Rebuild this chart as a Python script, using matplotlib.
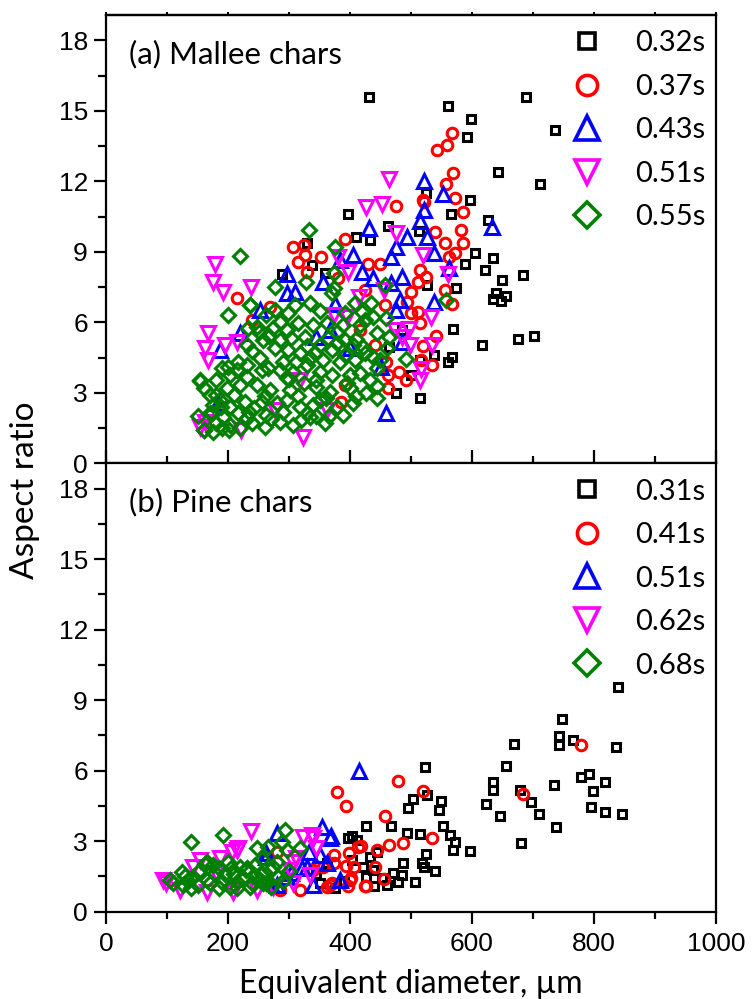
import matplotlib
matplotlib.use("Agg")
import matplotlib.pyplot as plt
from matplotlib.lines import Line2D
from matplotlib.ticker import MultipleLocator, NullFormatter

# ---------------- (a) Mallee chars ----------------
mallee_labels = ["0.32s", "0.37s", "0.43s", "0.51s", "0.55s"]

mallee_032_d = [431, 560, 689, 599, 591, 736, 643, 712, 596, 565, 626, 525, 513, 462, 397, 410, 432,
                605, 634, 589, 622, 649, 683, 640, 656, 634, 648, 573, 569, 617, 675, 701, 567, 560,
                515, 476, 538, 527, 500, 464, 329, 288, 337, 359, 485, 515]
mallee_032_ar = [15.6, 15.2, 15.6, 14.65, 13.9, 14.2, 12.4, 11.9, 11.2, 10.6, 10.35, 11.5, 9.9, 10.1, 10.6, 9.65, 9.5,
                 8.94, 8.72, 8.48, 8.23, 7.8, 8.0, 7.23, 7.1, 7.0, 6.92, 7.45, 5.7, 5.03, 5.28, 5.43, 4.54, 4.32,
                 2.77, 2.98, 4.6, 7.6, 3.75, 4.96, 9.36, 8.05, 8.44, 8.1, 5.67, 4.4]

mallee_037_d = [568, 559, 543, 569, 558, 572, 586, 476, 519, 522, 539, 582, 555, 586, 572, 562, 449, 514,
                525, 511, 500, 555, 568, 494, 511, 500, 514, 541, 519, 535, 459, 481, 491, 462, 462, 516,
                307, 325, 326, 314, 352, 392, 329, 214, 430, 239, 269, 386, 425, 457, 416, 441, 392, 380]
mallee_037_ar = [14.07, 13.55, 13.33, 12.37, 11.9, 11.28, 10.7, 10.95, 11.2, 11.1, 9.86, 9.93, 9.39, 9.39, 8.94, 8.8, 8.5, 8.23,
                 7.94, 7.73, 7.3, 7.37, 6.8, 6.88, 6.45, 6.38, 5.96, 5.42, 4.99, 4.18, 4.32, 3.9, 3.54, 3.76, 3.19, 4.4,
                 9.22, 9.29, 8.86, 8.58, 8.77, 9.53, 8.15, 7.02, 8.5, 6.1, 6.66, 2.62, 7.37, 6.74, 5.67, 5.03, 3.33, 7.9]

mallee_043_d = [521, 552, 522, 515, 494, 527, 633, 475, 467, 538, 562, 486, 467, 475, 537, 486, 451, 459,
                431, 405, 296, 296, 310, 419, 438, 356, 375, 345, 220, 187, 400, 184, 252, 384, 367, 482]
mallee_043_ar = [12.0, 11.45, 10.78, 10.32, 9.64, 9.64, 10.07, 9.22, 8.77, 8.94, 8.3, 7.94, 7.66, 6.52, 6.88, 5.17, 4.11, 2.13,
                 10.0, 8.86, 8.05, 7.23, 7.3, 8.15, 7.87, 7.73, 6.8, 5.39, 5.53, 4.82, 4.89, 2.55, 6.52, 8.65, 5.67, 6.95]

mallee_051_d = [464, 453, 475, 427, 178, 176, 192, 237, 381, 397, 519, 560, 456, 533, 497, 486, 535, 516,
                168, 162, 168, 195, 214, 162, 222, 323, 362, 154, 395, 414, 373, 318, 277, 498, 474, 515]
mallee_051_ar = [12.1, 11.02, 9.79, 10.92, 8.47, 7.73, 7.3, 7.52, 8.79, 8.15, 8.86, 8.05, 7.37, 6.24, 5.71, 5.39, 5.03, 4.0,
                 5.53, 4.89, 4.4, 5.03, 5.17, 1.77, 1.42, 1.13, 2.27, 1.56, 6.24, 7.09, 6.31, 3.54, 2.27, 5.03, 5.67, 3.54]

mallee_055_d = [220, 333, 376, 328, 277, 373, 373, 236, 233, 154, 160, 170, 181, 557, 459, 464, 492, 445,
                236, 277, 310, 334, 370, 408, 435, 419,
                247, 274, 285, 315, 340, 362, 389, 416, 438,
                231, 258, 285, 304, 326, 364, 392, 422, 444,
                217, 252, 277, 299, 318, 343, 370, 408, 438,
                154, 181, 203, 231, 266, 285, 307, 329, 351, 384, 416, 444,
                170, 198, 220, 247, 269, 302, 324, 345, 367, 395, 427,
                173, 203, 228, 255, 280, 296, 318, 351, 378, 405,
                160, 181, 203, 231, 261, 285, 307, 334, 359, 389,
                176, 201, 239,
                190, 214, 296, 370, 187, 242, 340, 263, 217, 192, 250, 296, 351, 378, 405, 231, 312, 356, 400, 433,
                457, 449,
                200, 262, 298, 350, 392, 425, 268, 330, 378, 410, 240, 290, 335, 392, 425, 200, 255, 300, 345, 400,
                160, 210, 260, 315, 360, 410, 188, 235, 290, 330, 365, 190, 220, 270, 320, 345, 150, 175, 445, 460]
mallee_055_ar = [8.82, 9.93, 9.22, 7.7, 7.52, 8.11, 7.45, 6.74, 5.74, 3.5, 1.42, 2.13, 2.9, 6.95, 6.17, 5.36, 4.43, 2.77,
                 6.74, 6.52, 6.74, 6.81, 7.23, 6.81, 6.81, 6.45,
                 5.82, 5.74, 6.03, 5.96, 5.89, 5.96, 5.89, 5.89, 6.24,
                 5.04, 5.25, 5.25, 5.32, 5.39, 5.32, 5.25, 4.96, 5.53,
                 4.33, 4.47, 4.89, 4.82, 4.68, 4.68, 4.82, 4.4, 4.54,
                 3.55, 3.55, 3.76, 3.69, 4.04, 3.97, 3.9, 4.19, 3.9, 4.33, 3.83, 4.04,
                 2.91, 3.19, 3.33, 3.33, 3.12, 3.12, 3.4, 3.26, 3.05, 3.4, 2.98,
                 2.13, 2.41, 2.62, 2.62, 2.55, 2.7, 2.41, 2.7, 2.41, 2.55,
                 1.42, 1.7, 1.63, 1.92, 1.56, 1.77, 1.63, 1.99, 1.7, 2.06,
                 1.35, 1.42, 1.7,
                 4.04, 3.97, 3.62, 3.76, 2.7, 2.34, 2.48, 2.06, 2.13, 1.99, 5.6, 5.67, 5.04, 5.6, 5.04, 4.19, 4.33, 4.4, 3.19, 3.55,
                 7.58, 4.39,
                 6.3, 6.3, 6.4, 6.5, 6.4, 6.1, 5.4, 5.0, 5.1, 5.3, 4.8, 4.3, 4.5, 4.6, 4.7, 4.1, 3.95, 3.6, 3.55, 3.75,
                 3.2, 2.9, 2.85, 2.85, 2.8, 2.85, 2.4, 2.2, 2.2, 2.15, 2.0, 1.5, 1.5, 1.9, 1.85, 2.0, 2.0, 2.5, 3.3, 4.9]

# ---------------- (b) Pine chars ----------------
pine_labels = ["0.31s", "0.41s", "0.51s", "0.62s", "0.68s"]

pine_031_d = [523, 655, 634, 634, 678, 734, 778, 791, 818, 798, 623, 646, 697, 710, 795, 818, 846, 738, 681,
              839, 747, 742, 765, 669, 836, 743,
              504, 495, 527, 549, 546, 468, 426, 403, 493, 515, 553, 564, 572, 569, 596, 524, 518, 522, 539,
              487, 471, 485, 438, 427, 452, 479, 460, 506, 422, 444, 433, 397, 411, 403, 439, 362, 350, 375, 390, 345]
pine_031_ar = [6.17, 6.22, 5.51, 5.18, 5.18, 5.39, 5.75, 5.85, 5.51, 5.14, 4.58, 4.09, 4.68, 4.16, 4.44, 4.26, 4.16, 3.59, 2.91,
               9.57, 8.2, 7.48, 7.31, 7.12, 7.0, 7.09,
               4.78, 4.43, 4.97, 4.71, 4.33, 3.65, 3.65, 3.22, 3.34, 3.31, 3.65, 3.26, 2.98, 2.63, 2.58, 2.46, 2.06, 1.92, 1.75,
               2.06, 1.66, 1.56, 1.78, 1.49, 1.42, 1.28, 1.14, 1.28, 1.92, 2.56, 2.31, 3.12, 3.05, 2.2, 1.1, 2.07, 1.2, 1.0, 1.3, 1.6]

pine_041_d = [378, 393, 478, 519, 458, 535, 487, 464, 444, 418, 399, 374, 393, 407, 441, 455, 426, 397, 401,
              370, 373, 779, 683, 413, 356, 400, 424, 367, 340, 280, 285, 318, 362]
pine_041_ar = [5.11, 4.5, 5.58, 5.14, 4.09, 3.12, 2.94, 2.84, 2.63, 2.8, 2.49, 2.41, 1.96, 1.92, 1.89, 1.38, 1.11, 1.11, 1.42,
               1.21, 2.06, 7.08, 4.99, 2.77, 1.92, 1.35, 1.09, 1.13, 1.77, 2.55, 0.92, 0.92, 1.06]

pine_051_d = [415, 354, 369, 332, 351, 384, 340, 329, 280, 263, 269, 304, 367, 263, 296, 321, 362, 280]
pine_051_ar = [6.0, 3.62, 3.2, 2.56, 2.41, 1.35, 1.14, 1.92, 3.34, 2.49, 1.28, 1.63, 3.12, 2.34, 1.49, 1.85, 2.06, 1.14]

pine_062_d = [238, 217, 206, 154, 187, 307, 302, 307, 323, 340, 345, 312, 99, 94, 121, 165, 209, 247, 274,
              143, 181, 214, 337, 334]
pine_062_ar = [3.43, 2.7, 2.55, 2.2, 2.27, 2.13, 1.77, 1.21, 3.19, 3.12, 2.7, 2.27, 1.21, 1.35, 0.92, 0.85, 0.85, 0.92, 1.07,
               1.92, 1.63, 2.63, 3.27, 1.56]

pine_068_d = [140, 191, 293, 247, 266, 288, 318, 296, 105, 124, 127, 143, 165, 179, 190, 200, 214, 230, 220,
              252, 244, 269, 280, 165, 151, 203, 236, 263, 282, 162, 231, 258, 274, 185, 210, 245, 175, 135,
              110, 130, 150, 170, 195, 215, 225, 240, 255, 270, 290, 300, 185, 205, 255, 140]
pine_068_ar = [2.98, 3.26, 3.48, 2.7, 2.77, 2.98, 2.7, 2.63, 1.35, 1.7, 1.14, 1.49, 2.13, 1.63, 1.28, 2.13, 1.28, 1.77, 1.92,
               1.35, 1.99, 1.77, 2.13, 1.35, 1.14, 1.07, 1.07, 1.21, 1.49, 2.04, 1.84, 1.21, 1.92, 1.0, 1.6, 1.5, 2.0, 1.3,
               1.2, 1.5, 1.7, 1.2, 1.6, 1.0, 1.45, 1.2, 1.6, 1.05, 1.3, 1.75, 1.85, 1.85, 2.25, 1.0]

# ---------------- styling ----------------
colors = ["#000000", "#ff0000", "#0000ff", "#ff00ff", "#008000"]
markers = ["s", "o", "^", "v", "D"]
msizes = [6.4, 7.6, 9.4, 9.4, 7.4]
leg_sizes = [12.0, 14.5, 17.0, 17.0, 13.0]
MEW = 2.2

TEXT_FONT = ["Lato", "DejaVu Sans"]
TICK_FONT = ["Liberation Sans", "DejaVu Sans"]

fig = plt.figure(figsize=(7.52, 9.99), dpi=100)
W, H = 752, 999
left, right = 106 / W, 716 / W
ax_a = fig.add_axes([left, 1 - 463.3 / H, right - left, (463.3 - 15) / H])
ax_b = fig.add_axes([left, 1 - 911.7 / H, right - left, (911.7 - 463.3) / H])

panels = [
    (ax_a, "(a) Mallee chars", mallee_labels,
     [(mallee_032_d, mallee_032_ar), (mallee_037_d, mallee_037_ar), (mallee_043_d, mallee_043_ar),
      (mallee_051_d, mallee_051_ar), (mallee_055_d, mallee_055_ar)]),
    (ax_b, "(b) Pine chars", pine_labels,
     [(pine_031_d, pine_031_ar), (pine_041_d, pine_041_ar), (pine_051_d, pine_051_ar),
      (pine_062_d, pine_062_ar), (pine_068_d, pine_068_ar)]),
]

for ax, title, labels, series in panels:
    for (d, ar), c, m, s in zip(series, colors, markers, msizes):
        ax.plot(d, ar, linestyle="none", marker=m, markersize=s, markerfacecolor="none",
                markeredgecolor=c, markeredgewidth=MEW)
    ax.set_xlim(0, 1000)
    ax.set_ylim(0, 19.08)
    ax.xaxis.set_major_locator(MultipleLocator(200))
    ax.xaxis.set_minor_locator(MultipleLocator(100))
    ax.yaxis.set_major_locator(MultipleLocator(3))
    ax.yaxis.set_minor_locator(MultipleLocator(1.5))
    for sp in ax.spines.values():
        sp.set_linewidth(1.6)
    ax.tick_params(axis="y", which="major", direction="out", length=9, width=1.6, labelsize=19, pad=4)
    ax.tick_params(axis="y", which="minor", direction="out", length=5.5, width=1.6)
    for lab in ax.get_yticklabels():
        lab.set_family(TICK_FONT)
    ax.text(0.038, 0.893, title, transform=ax.transAxes, ha="left", va="baseline",
            fontsize=22.5, family=TEXT_FONT)
    handles = [Line2D([], [], linestyle="none", marker=m, markersize=s, markerfacecolor="none",
                      markeredgecolor=c, markeredgewidth=2.6)
               for c, m, s in zip(colors, markers, leg_sizes)]
    ax.legend(handles, labels, loc="upper right", bbox_to_anchor=(1.012, 1.005), frameon=False,
              prop={"family": TEXT_FONT, "size": 21}, handlelength=1.2, handletextpad=1.05,
              labelspacing=0.6, borderaxespad=0.2)

# top panel: ticks pointing into the plot along the shared edge, no labels
ax_a.tick_params(axis="x", which="major", direction="in", length=9.4, width=1.6, labelbottom=False)
ax_a.tick_params(axis="x", which="minor", direction="in", length=5, width=1.6)
# short outward ticks along the top edge
top = ax_a.secondary_xaxis("top")
top.xaxis.set_major_locator(MultipleLocator(100))
top.xaxis.set_major_formatter(NullFormatter())
top.tick_params(axis="x", which="major", direction="out", length=2, width=1.4)
top.spines["top"].set_linewidth(1.6)

# bottom panel: outward ticks with labels
ax_b.tick_params(axis="x", which="major", direction="out", length=8.6, width=1.6, labelsize=19, pad=6)
ax_b.tick_params(axis="x", which="minor", direction="out", length=5, width=1.6)
for lab in ax_b.get_xticklabels():
    lab.set_family(TICK_FONT)

fig.text(411 / W, 1 - 993 / H, "Equivalent diameter, \u00b5m", ha="center", va="baseline",
         fontsize=23, family=TEXT_FONT)
fig.text(25 / W, 1 - 490 / H, "Aspect ratio", rotation=90, ha="center", va="center",
         fontsize=24, family=TEXT_FONT)

fig.savefig("out.png", dpi=100)
